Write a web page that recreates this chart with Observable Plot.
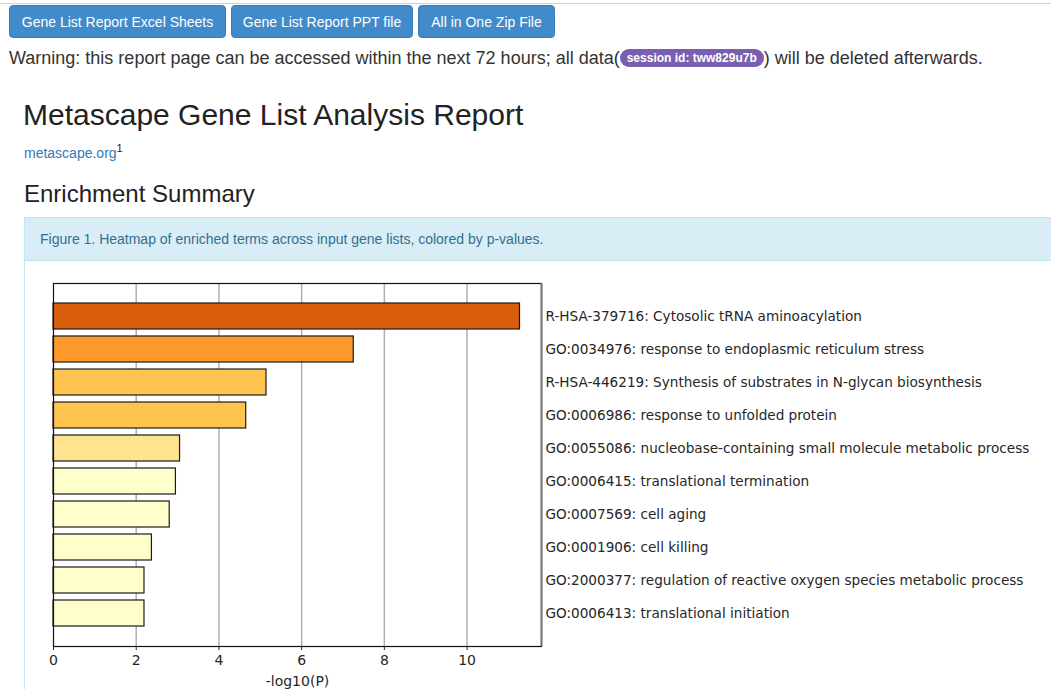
<!DOCTYPE html>
<html>
<head>
<meta charset="utf-8">
<script src="https://cdn.jsdelivr.net/npm/d3@7"></script>
<script src="https://cdn.jsdelivr.net/npm/@observablehq/plot@0.6"></script>
<style>
  html, body { margin: 0; padding: 0; background: #fff; width: 1051px; height: 689px; overflow: hidden; }
  body { font-family: "Liberation Sans", Arial, Helvetica, sans-serif; color: #333; position: relative; }
  .topline { position: absolute; left: 0; top: 3px; width: 1051px; height: 1px; background: #d0d0d0; }
  .btn { position: absolute; top: 5px; height: 33px; background: #428bca; color: #fff; font-size: 14px;
         border-radius: 4px; line-height: 33px; text-align: center; border: 1px solid #3a7cb8; box-sizing: border-box; }
  .warn { position: absolute; left: 9px; top: 46px; font-size: 18px; line-height: 24px; white-space: nowrap; color: #333; }
  .badge { display: inline-block; background: #7a5fb0; color: #fff; font-weight: bold; font-size: 12px;
           border-radius: 10px; padding: 0 7px; line-height: 18px; vertical-align: 2px; }
  .h1 { position: absolute; left: 23px; top: 97px; font-size: 30px; line-height: 36px; color: #222; white-space: nowrap; }
  .link { position: absolute; left: 24px; top: 139px; font-size: 14px; line-height: 18px; color: #337ab7; }
  .link sup { color: #222; font-size: 11px; }
  .h2 { position: absolute; left: 24px; top: 179px; font-size: 24px; line-height: 30px; color: #222; white-space: nowrap; }
  .panel { position: absolute; left: 24px; top: 217px; width: 1040px; height: 480px; border: 1px solid #bce8f1; box-sizing: border-box; background: #fff; }
  .panelhead { position: absolute; left: 0; top: 0; right: 0; height: 42px; background: #d9edf7; border-bottom: 1px solid #bce8f1;
               color: #31708f; font-size: 14px; line-height: 42px; padding-left: 15px; white-space: nowrap; }
  #chart { position: absolute; left: 0; top: 260px; }
  #chart svg { background: transparent; }
</style>
</head>
<body>
<div class="topline"></div>
<div class="btn" style="left:9px;width:217px;">Gene List Report Excel Sheets</div>
<div class="btn" style="left:231px;width:182px;">Gene List Report PPT file</div>
<div class="btn" style="left:418px;width:137px;">All in One Zip File</div>
<div class="warn">Warning: this report page can be accessed within the next 72 hours; all data(<span class="badge">session id: tww829u7b</span>) will be deleted afterwards.</div>
<div class="h1">Metascape Gene List Analysis Report</div>
<div class="link">metascape.org<sup>1</sup></div>
<div class="h2">Enrichment Summary</div>
<div class="panel"><div class="panelhead">Figure 1. Heatmap of enriched terms across input gene lists, colored by p-values.</div></div>
<div id="chart"></div>
<script>
const terms = [
  "R-HSA-379716: Cytosolic tRNA aminoacylation",
  "GO:0034976: response to endoplasmic reticulum stress",
  "R-HSA-446219: Synthesis of substrates in N-glycan biosynthesis",
  "GO:0006986: response to unfolded protein",
  "GO:0055086: nucleobase-containing small molecule metabolic process",
  "GO:0006415: translational termination",
  "GO:0007569: cell aging",
  "GO:0001906: cell killing",
  "GO:2000377: regulation of reactive oxygen species metabolic process",
  "GO:0006413: translational initiation"
];
const logP = [11.28, 7.26, 5.15, 4.66, 3.06, 2.96, 2.81, 2.38, 2.2, 2.2];
const xTicks = [0, 2, 4, 6, 8, 10];
const colorBreaks = [3, 4, 6, 10, 20];
const colorRange = ["#ffffcc", "#fee391", "#fec44f", "#fe9929", "#d95f0e", "#993404"];

const data = terms.map((t, i) => ({term: t, value: logP[i]}));

const chart = Plot.plot({
  width: 1051,
  height: 429,
  marginLeft: 53,
  marginRight: 510,
  marginTop: 23,
  marginBottom: 43,
  style: {fontFamily: "'DejaVu Sans', sans-serif", fontSize: "13.6px", color: "#262626", background: "transparent"},
  x: {domain: [0, 11.8], label: null},
  y: {domain: terms, paddingInner: 0.2, paddingOuter: 0.6, label: null},
  color: {type: "threshold", domain: colorBreaks, range: colorRange},
  marks: [
    Plot.gridX(xTicks.filter(d => d > 0), {stroke: "#b0b0b0", strokeOpacity: 1, strokeWidth: 1.5}),
    Plot.barX(data, {x: "value", y: "term", fill: "value", stroke: "#1a1a1a", strokeWidth: 1.2}),
    Plot.frame({stroke: "#111", strokeWidth: 1.2}),
    Plot.ruleX([11.8], {stroke: "#777", strokeWidth: 2}),
    Plot.axisX(xTicks, {tickSize: 4, tickPadding: 5, fontSize: 14, label: "-log10(P)", labelAnchor: "center", labelArrow: "none", labelOffset: 39}),
    Plot.axisY({anchor: "right", tickSize: 0, tickPadding: 4, fontSize: 13.6, textAnchor: "start", label: null})
  ]
});
document.getElementById("chart").appendChild(chart);
</script>
</body>
</html>
